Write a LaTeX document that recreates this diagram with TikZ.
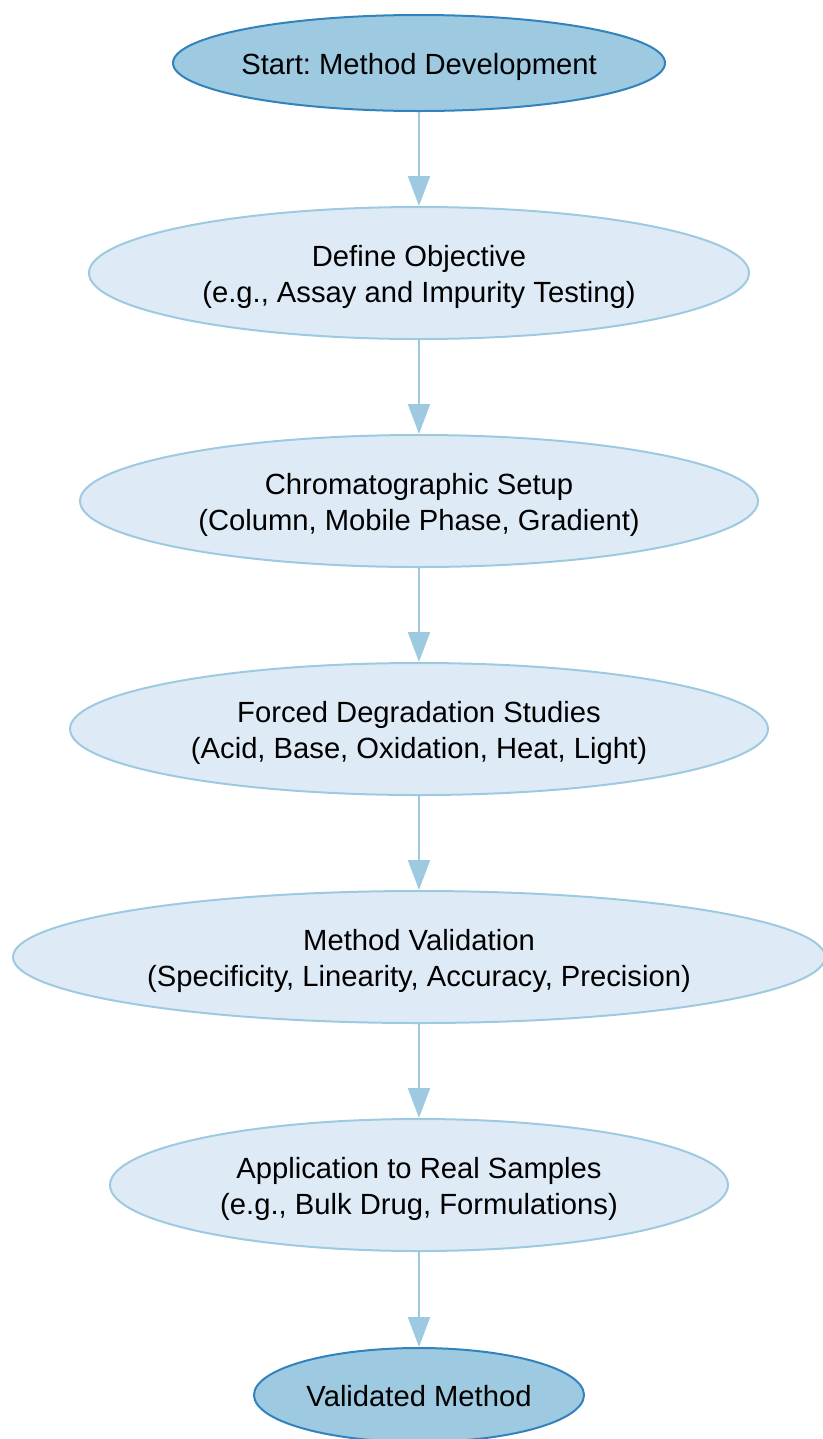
\documentclass[tikz,border=0pt]{standalone}
\usepackage{fontspec}
\setmainfont{Liberation Sans}
\usetikzlibrary{shapes.geometric,arrows.meta}
\definecolor{darkfill}{HTML}{9ECAE1}
\definecolor{darkline}{HTML}{3182BD}
\definecolor{lightfill}{HTML}{DEEBF7}
\definecolor{lightline}{HTML}{9ECAE1}
\definecolor{arrowcol}{HTML}{9ECAE1}
\frenchspacing
\newcommand{\ctext}[1]{\raisebox{-3pt}[\height][\depth]{\makebox[0pt]{\begin{tabular}{@{}c@{}}#1\end{tabular}}}}
\tikzset{
  base/.style={ellipse, inner sep=0pt, line width=1.5pt, font=\fontsize{21.9pt}{27pt}\selectfont},
  terminal/.style={base, fill=darkfill, draw=darkline},
  stepnode/.style={base, fill=lightfill, draw=lightline},
  flow/.style={draw=arrowcol, line width=1.5pt, -{Triangle[length=22.5pt,width=16.5pt]}}
}
\begin{document}
\begin{tikzpicture}[x=0.75pt,y=-0.75pt]
\useasboundingbox (0,0) rectangle (822,1439);
\node[terminal, minimum width=369pt, minimum height=72pt] (start) at (419,63) {\ctext{Start: Method Development}};
\node[stepnode, minimum width=495pt, minimum height=99pt] (obj) at (419,273) {\ctext{Define Objective\\(e.g., Assay and Impurity Testing)}};
\node[stepnode, minimum width=508.5pt, minimum height=99pt] (chrom) at (419,501) {\ctext{Chromatographic Setup\\(Column, Mobile Phase, Gradient)}};
\node[stepnode, minimum width=523.5pt, minimum height=99pt] (forced) at (419,729) {\ctext{Forced Degradation Studies\\(Acid, Base, Oxidation, Heat, Light)}};
\node[stepnode, minimum width=609pt, minimum height=99pt] (valid) at (419,957) {\ctext{Method Validation\\(Specificity, Linearity, Accuracy, Precision)}};
\node[stepnode, minimum width=463.5pt, minimum height=99pt] (app) at (419,1185) {\ctext{Application to Real Samples\\(e.g., Bulk Drug, Formulations)}};
\node[terminal, minimum width=247.5pt, minimum height=70.5pt] (done) at (419,1395) {\ctext{Validated Method}};
\draw[flow] (start) -- (obj);
\draw[flow] (obj) -- (chrom);
\draw[flow] (chrom) -- (forced);
\draw[flow] (forced) -- (valid);
\draw[flow] (valid) -- (app);
\draw[flow] (app) -- (done);
\end{tikzpicture}
\end{document}
